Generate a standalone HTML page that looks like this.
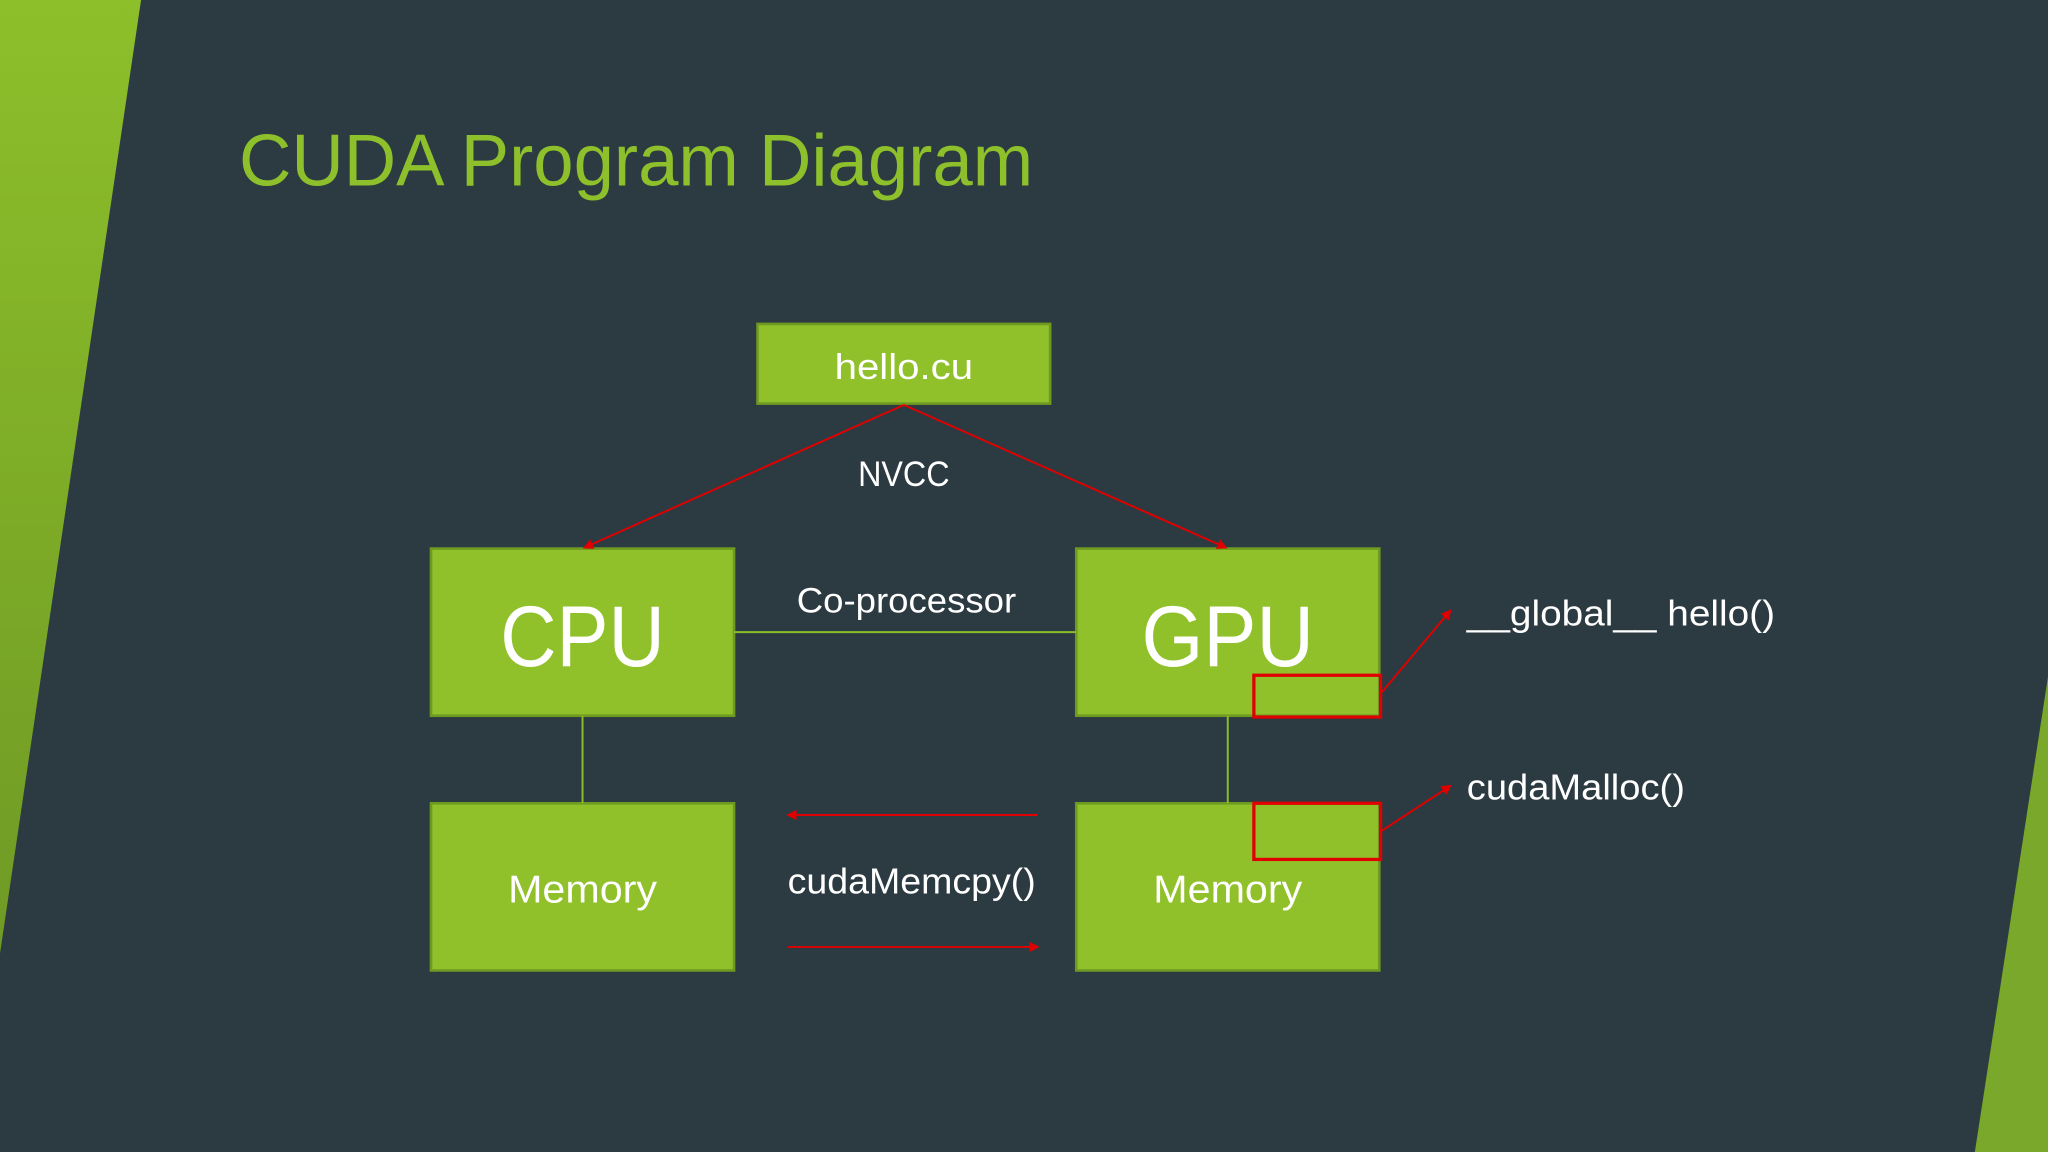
<!DOCTYPE html>
<html><head><meta charset="utf-8"><style>
html,body{margin:0;padding:0;background:#2c3a42;}
svg{display:block;}
text{font-family:"Liberation Sans",sans-serif;}
</style></head><body>
<svg width="2048" height="1152" viewBox="0 0 1568 882" xmlns="http://www.w3.org/2000/svg">
<defs>
<marker id="ah" markerWidth="8" markerHeight="8" refX="6" refY="4" orient="auto" markerUnits="userSpaceOnUse">
<path d="M0,0 L8,4 L0,8 z" fill="#e00000"/></marker>
<linearGradient id="gl" x1="0" y1="0" x2="0" y2="1"><stop offset="0" stop-color="#8dbf2a"/><stop offset="1" stop-color="#6f9a25"/></linearGradient>
</defs>
<rect width="1568" height="882" fill="#2c3a42"/>
<polygon points="0,0 108,0 0,730" fill="url(#gl)"/>
<polygon points="1568,518 1568,882 1512,882" fill="#7aa82a"/>
<text x="183" y="142" font-size="56" fill="#8dc02b" textLength="608" lengthAdjust="spacingAndGlyphs">CUDA Program Diagram</text>
<g fill="#90c02a" stroke="#6f9a22" stroke-width="2">
<rect x="580" y="248" width="224" height="61"/>
<rect x="330" y="420" width="232" height="128"/>
<rect x="824" y="420" width="232" height="128"/>
<rect x="330" y="615" width="232" height="128"/>
<rect x="824" y="615" width="232" height="128"/>
</g>
<g stroke="#8dbe2a" stroke-width="1.5">
<line x1="562" y1="484" x2="824" y2="484"/>
<line x1="446" y1="548" x2="446" y2="615"/>
<line x1="940" y1="548" x2="940" y2="615"/>
</g>
<g stroke="#e00000" stroke-width="1.5" fill="none">
<line x1="692" y1="310" x2="448" y2="419" marker-end="url(#ah)"/>
<line x1="692" y1="310" x2="938" y2="419" marker-end="url(#ah)"/>
<line x1="794" y1="624" x2="604" y2="624" marker-end="url(#ah)"/>
<line x1="603" y1="725" x2="794" y2="725" marker-end="url(#ah)"/>
<line x1="1058" y1="530" x2="1110" y2="468" marker-end="url(#ah)"/>
<line x1="1058" y1="636" x2="1110" y2="602" marker-end="url(#ah)"/>
</g>
<g stroke="#e00000" stroke-width="2.5" fill="none">
<rect x="960" y="517" width="97" height="32"/>
<rect x="960" y="615" width="97" height="43"/>
</g>
<g fill="#ffffff" text-anchor="middle">
<text x="692" y="290" font-size="28" textLength="106" lengthAdjust="spacingAndGlyphs">hello.cu</text>
<text x="692" y="372" font-size="27" textLength="70" lengthAdjust="spacingAndGlyphs">NVCC</text>
<text x="694" y="469" font-size="27" textLength="168" lengthAdjust="spacingAndGlyphs">Co-processor</text>
<text x="446" y="510" font-size="66" textLength="126" lengthAdjust="spacingAndGlyphs">CPU</text>
<text x="940" y="510" font-size="66" textLength="132" lengthAdjust="spacingAndGlyphs">GPU</text>
<text x="446" y="691" font-size="30" textLength="114" lengthAdjust="spacingAndGlyphs">Memory</text>
<text x="940" y="691" font-size="30" textLength="114" lengthAdjust="spacingAndGlyphs">Memory</text>
<text x="698" y="684" font-size="28" textLength="190" lengthAdjust="spacingAndGlyphs">cudaMemcpy()</text>
</g>
<g fill="#ffffff">
<text x="1123" y="479" font-size="28" textLength="236" lengthAdjust="spacingAndGlyphs">__global__ hello()</text>
<text x="1123" y="612" font-size="28" textLength="167" lengthAdjust="spacingAndGlyphs">cudaMalloc()</text>
</g>
</svg>
</body></html>
